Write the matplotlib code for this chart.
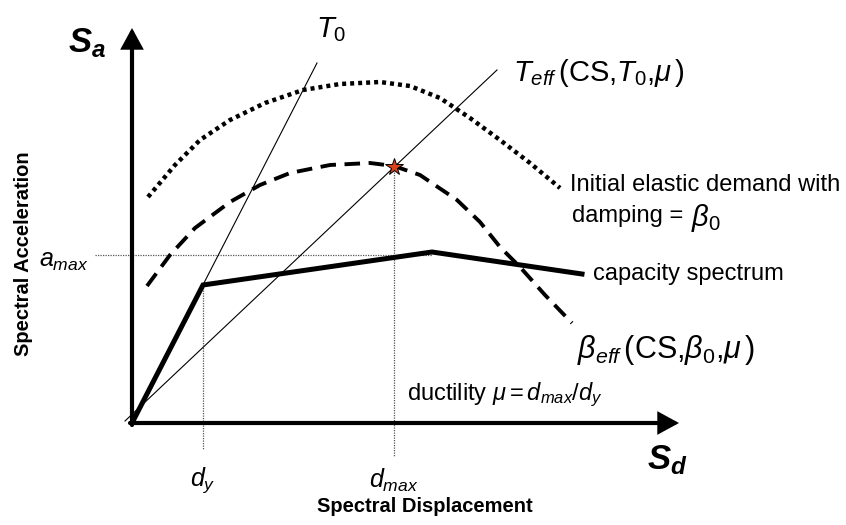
import matplotlib
matplotlib.use("Agg")
import matplotlib.pyplot as plt

plt.rcParams['font.family'] = ['Liberation Sans', 'DejaVu Sans']
plt.rcParams['mathtext.fontset'] = 'custom'
plt.rcParams['mathtext.rm'] = 'Liberation Sans'
plt.rcParams['mathtext.it'] = 'Liberation Sans:italic'
plt.rcParams['mathtext.bf'] = 'Liberation Sans:bold:italic'

# capacity spectrum (origin -> yield -> peak -> end)
cap_sd = [0, 71, 300, 450]
cap_sa = [0, 138, 171, 149]

# initial elastic demand (dotted)
dem0_sd = [16, 43, 68, 98, 133, 171, 208, 248, 278, 308, 338, 368, 398, 428]
dem0_sa = [226, 258, 283, 303, 320, 333, 339, 341, 337, 325, 305, 283, 260, 235]

# reduced demand with beta_eff (dashed)
demeff_sd = [15, 38, 63, 98, 128, 158, 198, 238, 262, 288, 325, 348, 368, 388, 413, 440]
demeff_sa = [137, 168, 195, 221, 238, 250, 258, 260, 257, 248, 223, 201, 176, 156, 128, 100]

# period lines
t0_sd = [0, 185]
t0_sa = [0, 360]
teff_sd = [-7, 365]
teff_sa = [2, 353]

# performance point and guide values
d_y = 71
a_y = 138
d_max = 262
a_perf = 256
a_max = 168
a_max_sd = 300

fig = plt.figure(figsize=(8.46, 5.25), dpi=100)
ax = fig.add_axes([0, 0, 1, 1])
ax.set_xlim(-132, 714)
ax.set_ylim(-102, 423)
ax.axis('off')

# axes arrows
arr = dict(arrowstyle='-|>,head_length=0.55,head_width=0.3', lw=3, color='k',
           mutation_scale=20, shrinkA=0, shrinkB=0, joinstyle='miter')
ax.annotate('', xy=(0, 395), xytext=(0, -2), arrowprops=arr)
ax.annotate('', xy=(547, 0), xytext=(-2, 0), arrowprops=arr)

# guide lines
ax.plot([d_y, d_y], [a_y, -26], color='#555555', lw=0.9, ls=(0, (1, 1)))
ax.plot([d_max, d_max], [a_perf, -33], color='#555555', lw=0.9, ls=(0, (1, 1)))
ax.plot([-37, a_max_sd], [a_max, a_max], color='#555555', lw=0.9, ls=(0, (1, 1)))

ax.plot(t0_sd, t0_sa, color='k', lw=0.8)
ax.plot(teff_sd, teff_sa, color='k', lw=0.8)

ax.plot(dem0_sd, dem0_sa, color='k', lw=3.2, ls=(0, (0.9, 0.9)), dash_capstyle='butt')
ax.plot(demeff_sd, demeff_sa, color='k', lw=2.8, ls=(0, (4, 2.2)), dash_capstyle='butt')
ax.plot(cap_sd, cap_sa, color='k', lw=3.6, solid_joinstyle='miter')

ax.plot([d_max], [a_perf], marker='*', ms=13, mfc='#D9441C', mec='k', mew=0.7)

# labels
ax.text(-45, 380, r'$\mathbf{S}_{\mathbf{a}}$', fontsize=25, ha='center', va='center')
ax.text(535, -37, r'$\mathbf{S}_{\mathbf{d}}$', fontsize=25, ha='center', va='center')
ax.text(184, 393, r'$T_{\mathit{0}}$', fontsize=21, ha='left', va='center')
ax.text(381, 350, r'$T_{eff}\,$(CS,$T_{\mathit{0}}$,$\mu\,$)', fontsize=21, ha='left', va='center')
ax.text(438, 238, 'Initial elastic demand with', fontsize=17, ha='left', va='center')
damp = ax.text(440, 201, 'damping = ', fontsize=17, ha='left', va='baseline')
ax.annotate(r'$\beta_{\mathit{0}}$', xy=(1, 0), xycoords=damp, fontsize=21,
            ha='left', va='baseline', xytext=(1, 1), textcoords='offset points')
ax.text(461, 149, 'capacity spectrum', fontsize=17, ha='left', va='center')
ax.text(445, 73, r'$\beta_{eff}\,$(CS,$\beta_{\mathit{0}}$,$\mu\,$)', fontsize=22, ha='left', va='center')
ax.text(275, 28, r'ductility $\mu = d_{max}/d_{y}$', fontsize=17, ha='left', va='center')
ax.text(-44, 162, r'$a_{max}$', fontsize=18, ha='right', va='center')
ax.text(d_y, -57, r'$d_{y}$', fontsize=18, ha='center', va='center')
ax.text(d_max, -57, r'$d_{max}$', fontsize=18, ha='center', va='center')
ax.text(293, -84, 'Spectral Displacement', fontsize=14.5, fontweight='bold', ha='center', va='center')
ax.text(-109, 169, 'Spectral Acceleration', fontsize=14.5, fontweight='bold', ha='center',
        va='center', rotation=90)

fig.savefig('out.png', dpi=100)
